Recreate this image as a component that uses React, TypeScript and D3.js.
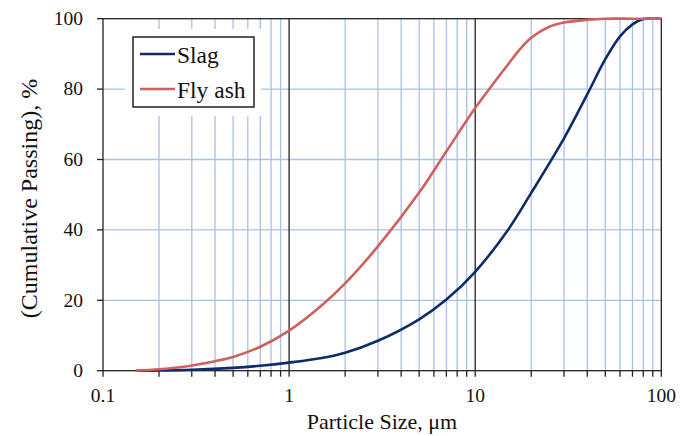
import React from "react";
import * as d3 from "d3";

const slagSizes = [0.15, 0.2, 0.3, 0.5, 0.7, 1, 1.5, 2, 3, 5, 7, 10, 15, 20, 30, 40, 50, 60, 70, 80, 90, 100];
const slagPassing = [0, 0.05, 0.25, 0.8, 1.4, 2.3, 3.6, 5.1, 8.5, 14.6, 20.2, 28.1, 40, 50.5, 66, 78.5, 88.5, 95, 98.4, 99.9, 100, 100];

const flySizes = [0.15, 0.2, 0.25, 0.3, 0.4, 0.5, 0.7, 1, 1.5, 2, 3, 5, 7, 10, 15, 17.5, 20, 25, 30, 40, 50, 70, 100];
const flyPassing = [0, 0.4, 0.9, 1.5, 2.7, 3.9, 6.8, 11.4, 18.6, 24.8, 35.3, 50.6, 62.3, 74.6, 87, 91.5, 94.6, 97.7, 98.9, 99.7, 100, 100, 100];

const xTickLabels = [0.1, 1, 10, 100];
const yTickLabels = [0, 20, 40, 60, 80, 100];
const seriesNames = ["Slag", "Fly ash"];
const seriesColors = ["#0f2b6b", "#d0605d"];

const W = 690, H = 436;
const L = 103, R = 661.3, T = 18.7, B = 370.7;

export default function App() {
  const x = d3.scaleLog().domain([0.1, 100]).range([L, R]);
  const y = d3.scaleLinear().domain([0, 100]).range([B, T]);

  const minor: number[] = [];
  [0.1, 1, 10].forEach((d) => {
    for (let k = 2; k <= 9; k++) minor.push(+(d * k).toFixed(4));
  });

  const line = d3
    .line<[number, number]>()
    .x((d) => x(d[0]))
    .y((d) => Math.max(y(d[1]), T))
    .curve(d3.curveCatmullRom.alpha(0.5));

  const slagData = slagSizes.map((s, i) => [s, slagPassing[i]] as [number, number]);
  const flyData = flySizes.map((s, i) => [s, flyPassing[i]] as [number, number]);

  const tf = { fontFamily: '"Liberation Serif", "Times New Roman", Times, serif' };
  const grid = "#a8c1e6";

  return (
    <svg width={W} height={H} style={{ position: "absolute", left: 0, top: 0, background: "#fff" }}>
      <rect x={0} y={0} width={W} height={H} fill="#fff" />
      {yTickLabels.filter((v) => v > 0 && v < 100).map((v) => (
        <line key={"h" + v} x1={L} x2={R} y1={y(v)} y2={y(v)} stroke={grid} strokeWidth={1.3} />
      ))}
      {minor.map((v) => (
        <line key={"m" + v} x1={x(v)} x2={x(v)} y1={T} y2={B} stroke={grid} strokeWidth={1.3} />
      ))}
      {[1, 10].map((v) => (
        <line key={"M" + v} x1={x(v)} x2={x(v)} y1={T} y2={B} stroke="#222" strokeWidth={1.3} />
      ))}
      <rect x={L} y={T} width={R - L} height={B - T} fill="none" stroke="#222" strokeWidth={1.3} />
      {[...xTickLabels, ...minor].map((v) => (
        <line key={"xt" + v} x1={x(v)} x2={x(v)} y1={B} y2={B + 6} stroke="#222" strokeWidth={1.3} />
      ))}
      {yTickLabels.map((v) => (
        <line key={"yt" + v} x1={L - 6} x2={L} y1={y(v)} y2={y(v)} stroke="#222" strokeWidth={1.3} />
      ))}
      {xTickLabels.map((v) => (
        <text key={"xl" + v} x={x(v)} y={401.5} textAnchor="middle" style={tf} fontSize={19.5} fill="#111">
          {String(v)}
        </text>
      ))}
      {yTickLabels.map((v) => (
        <text key={"yl" + v} x={83} y={y(v) + 6.3} textAnchor="end" style={tf} fontSize={19.5} fill="#111">
          {String(v)}
        </text>
      ))}
      <text x={382} y={428.5} textAnchor="middle" style={tf} fontSize={22} fill="#111">
        Particle Size, μm
      </text>
      <text
        transform={`translate(36.5,198.5) rotate(-90)`}
        textAnchor="middle"
        style={tf}
        fontSize={24}
        fill="#111"
      >
        (Cumulative Passing), %
      </text>
      <rect x={125} y={29} width={136} height={87} fill="#fff" />
      <rect x={133} y={37} width={121} height={70} fill="#fff" stroke="#222" strokeWidth={1.5} />
      {seriesNames.map((n, i) => (
        <g key={n}>
          <line x1={140} x2={175} y1={54 + i * 35} y2={54 + i * 35} stroke={seriesColors[i]} strokeWidth={2.5} />
          <text x={177} y={63 + i * 35} style={tf} fontSize={23.5} fill="#111">
            {n}
          </text>
        </g>
      ))}
      <path d={line(slagData) || ""} fill="none" stroke={seriesColors[0]} strokeWidth={2.6} />
      <path d={line(flyData) || ""} fill="none" stroke={seriesColors[1]} strokeWidth={2.6} />
    </svg>
  );
}
